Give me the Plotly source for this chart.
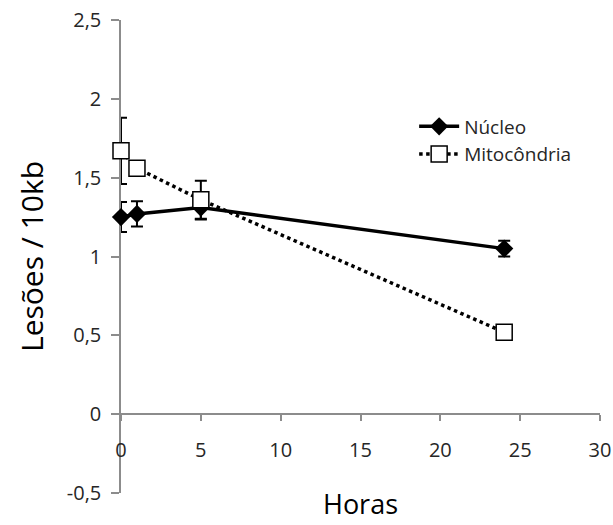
import plotly.graph_objects as go

# Time points (hours) and lesion frequencies per 10 kb
horas = [0, 1, 5, 24]
nucleo = [1.25, 1.27, 1.31, 1.05]
nucleo_err = [0.095, 0.08, 0.075, 0.05]
mito = [1.67, 1.56, 1.36, 0.52]
mito_err = [0.21, 0.0, 0.12, 0.0]

y_ticks = [-0.5, 0, 0.5, 1, 1.5, 2, 2.5]
y_ticktext = ["-0,5", "0", "0,5", "1", "1,5", "2", "2,5"]
x_ticks = [0, 5, 10, 15, 20, 25, 30]

axis_grey = "#8c8c8c"
text_col = "#262626"
font_family = "'Open Sans', Lato, sans-serif"

fig = go.Figure()

fig.add_trace(go.Scatter(
    x=horas, y=nucleo, name="Núcleo", mode="lines+markers",
    line=dict(color="black", width=3.5),
    marker=dict(symbol="diamond", size=14, color="black"),
    error_y=dict(type="data", array=nucleo_err, visible=True,
                 color="black", thickness=2, width=6),
    cliponaxis=False,
))

fig.add_trace(go.Scatter(
    x=horas, y=mito, name="Mitocôndria", mode="lines+markers",
    line=dict(color="black", width=3.5, dash="dot"),
    marker=dict(symbol="square", size=16, color="white",
                line=dict(color="black", width=1.5)),
    error_y=dict(type="data", array=mito_err, visible=True,
                 color="black", thickness=2, width=6),
    cliponaxis=False,
))

fig.update_layout(
    width=613, height=525,
    margin=dict(l=121, r=13, t=20, b=32),
    paper_bgcolor="white", plot_bgcolor="white",
    font=dict(family=font_family, size=18, color=text_col),
    showlegend=True,
    legend=dict(x=0.612, y=0.815, xanchor="left", yanchor="top",
                bgcolor="rgba(0,0,0,0)", font=dict(size=19),
                itemwidth=40, tracegroupgap=0),
    xaxis=dict(
        range=[0, 30], tickmode="array", tickvals=x_ticks,
        showgrid=False, zeroline=False,
        showline=True, linecolor=axis_grey, linewidth=1.5, layer="below traces",
        ticks="outside", ticklen=6, tickcolor=axis_grey, tickwidth=1.5,
        anchor="free", position=1 / 6, ticklabelstandoff=12,
        ticklabeloverflow="allow",
        tickfont=dict(family=font_family, size=20, color=text_col),
        title=dict(text="Horas", font=dict(size=27, color="black"), standoff=32),
        automargin=False,
    ),
    yaxis=dict(
        range=[-0.5, 2.5], tickmode="array", tickvals=y_ticks, ticktext=y_ticktext,
        showgrid=False, zeroline=False,
        showline=True, linecolor=axis_grey, linewidth=1.5, layer="below traces",
        ticks="outside", ticklen=8, tickcolor=axis_grey, tickwidth=1.5,
        ticklabelstandoff=6,
        tickfont=dict(family=font_family, size=20, color=text_col),
        title=dict(text="Lesões / 10kb", font=dict(size=30, color="black"), standoff=14),
        automargin=False,
    ),
)

fig.write_html("out.html")
